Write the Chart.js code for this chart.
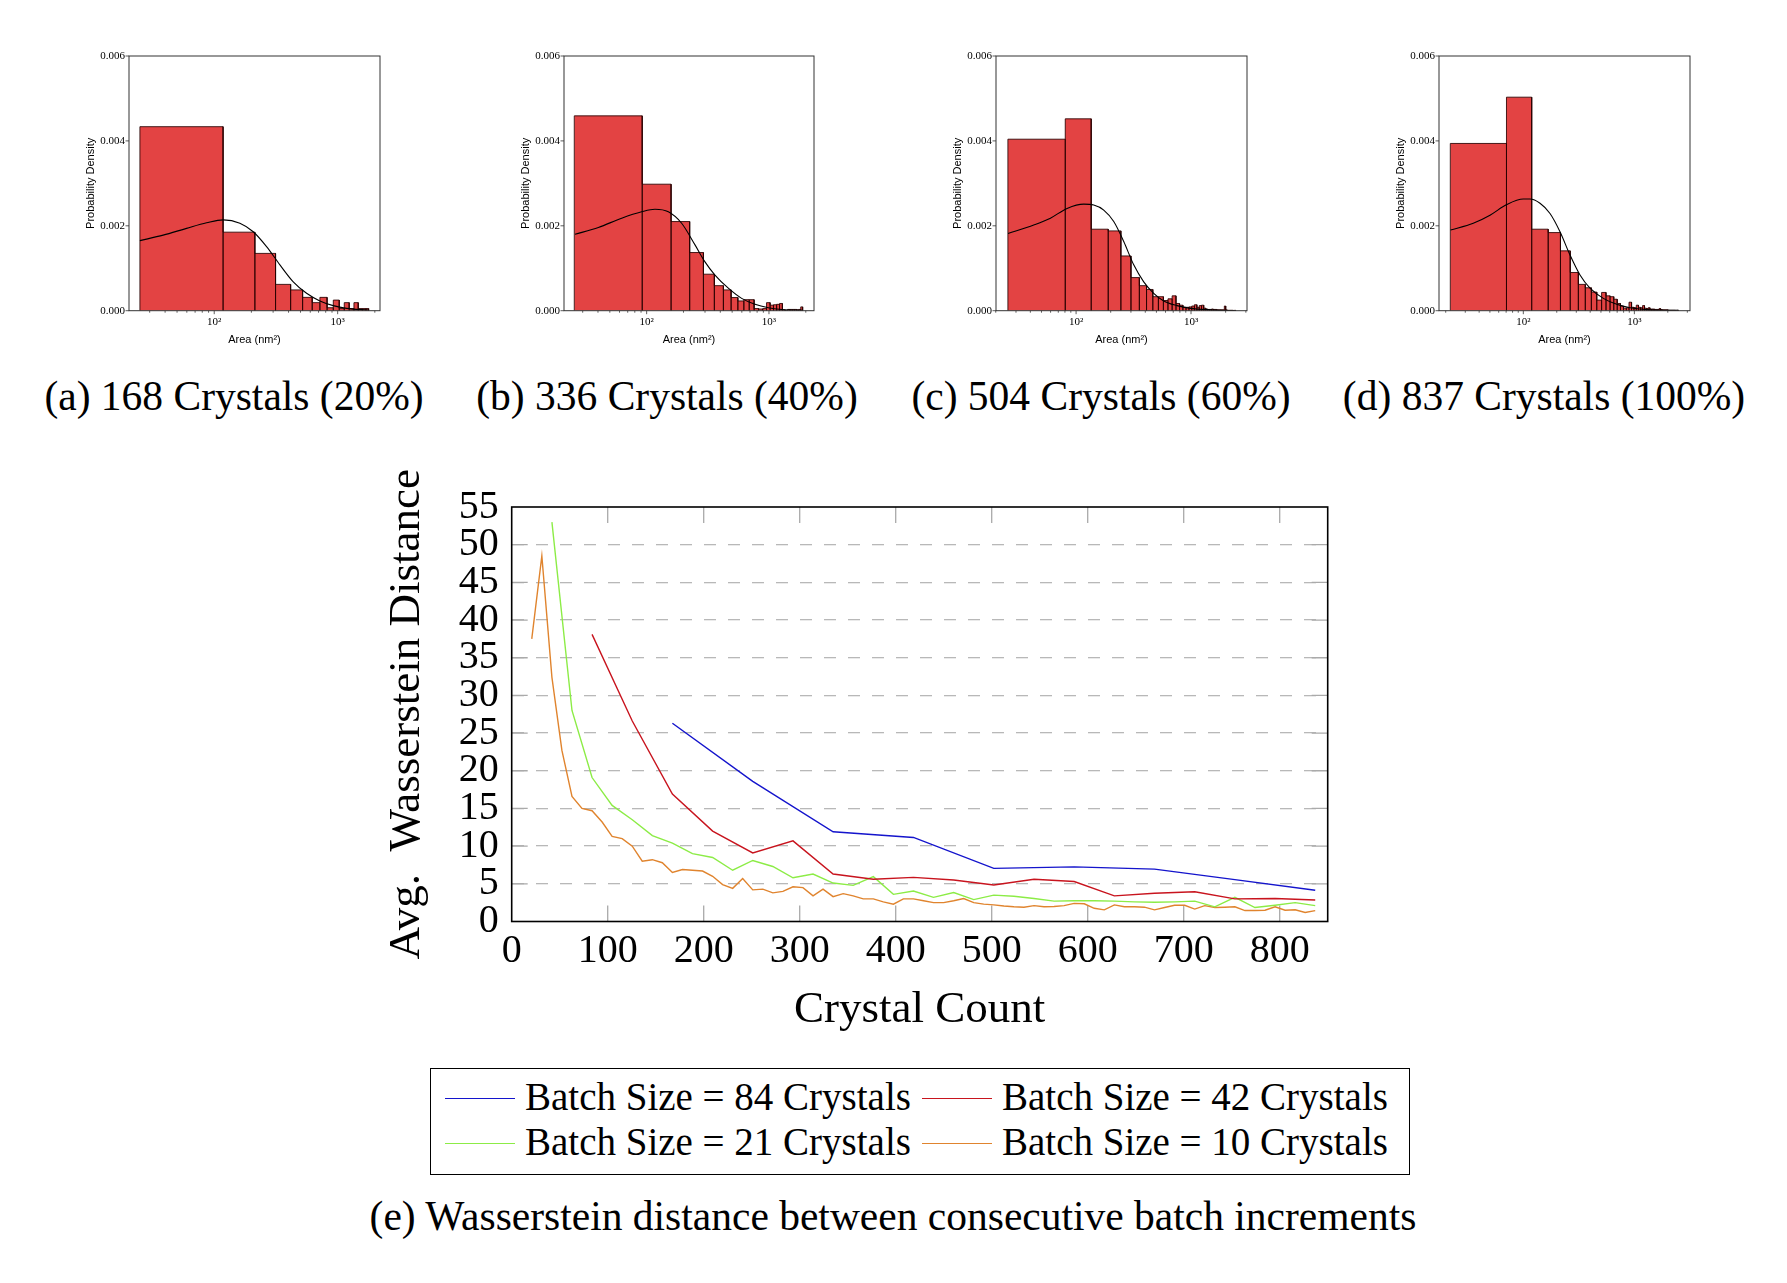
<!DOCTYPE html>
<html>
<head>
<meta charset="utf-8">
<script src="https://cdn.jsdelivr.net/npm/chart.js"></script>
<style>
  body { margin: 0; width: 1787px; height: 1283px; background: #fff; position: relative; overflow: hidden;
         font-family: "Liberation Serif", serif; color: #000; }
  canvas { position: absolute; }
  .cap { position: absolute; font-size: 41.5px; line-height: 48px; white-space: nowrap; transform: translateX(-50%); }
  #legend { position: absolute; left: 430px; top: 1068px; width: 978px; height: 105px; border: 1.5px solid #000; }
  .ltext { position: absolute; font-size: 39px; line-height: 46px; white-space: nowrap; }
  .lline { position: absolute; height: 0; border-top: 1.6px solid; }
</style>
</head>
<body>

<canvas id="histA" width="340" height="320" style="left:60px;top:40px"></canvas>
<canvas id="histB" width="340" height="320" style="left:495px;top:40px"></canvas>
<canvas id="histC" width="340" height="320" style="left:927px;top:40px"></canvas>
<canvas id="histD" width="340" height="320" style="left:1370px;top:40px"></canvas>

<div class="cap" style="left:234px;top:372px">(a) 168 Crystals (20%)</div>
<div class="cap" style="left:667px;top:372px">(b) 336 Crystals (40%)</div>
<div class="cap" style="left:1101px;top:372px">(c) 504 Crystals (60%)</div>
<div class="cap" style="left:1544px;top:372px">(d) 837 Crystals (100%)</div>

<canvas id="wdist" width="1020" height="570" style="left:330px;top:470px"></canvas>
<div id="legend"></div>
<div class="cap" style="left:893px;top:1192px">(e) Wasserstein distance between consecutive batch increments</div>

<script>
// ---------- histogram data (area in nm^2, probability density) ----------
const histA_edges   = [25, 118, 213.5, 314, 416, 520, 622, 718, 821, 922, 1030, 1131, 1240, 1355, 1468, 1584, 1696, 1782];
const histA_heights = [0.004335, 0.00185, 0.00135, 0.00062, 0.00049, 0.000314, 0.00019, 0.000314, 0.00007, 0.00025,
                       0.00005, 0.00019, 0.00005, 0.00019, 0.00005, 0.00005, 0.00005];
const histA_curveX  = [25, 38.6, 59.7, 86.7, 118.3, 161.4, 207, 265.5, 340.6, 436.8, 560, 718, 920, 1181, 1782];
const histA_curveY  = [0.00165, 0.00178, 0.00194, 0.00207, 0.00214, 0.00206, 0.00186, 0.00151, 0.00108, 0.00068,
                       0.00041, 0.00023, 0.00012, 0.000055, 0.000016];

const histB_edges   = [25.6, 92, 158.4, 224.8, 291.2, 357.6, 424, 490.4, 556.8, 623.2, 689.6, 756, 822.4, 888.8, 955.2,
                       1021.6, 1088, 1154.4, 1220.8, 1287.2, 1353.6, 1420, 1486.4, 1552.8, 1619.2, 1685.6, 1752, 1818.4, 1884.8];
const histB_heights = [0.00459, 0.00298, 0.0021, 0.00137, 0.00086, 0.00059, 0.00049, 0.00031, 0.00023, 0.00026,
                       0.00026, 0.00005, 0.00004, 0.00005, 0.00019, 0.00013, 0.00014, 0.00015, 0.00017, 0.00002,
                       0, 0.00003, 0.00003, 0.00003, 0.00003, 0.00002, 0.00003, 0.00009];
const histB_curveX  = [25.96, 40.3, 62.5, 91, 117, 150.4, 193.2, 248.5, 299.8, 361.9, 465.2, 597.9, 768.5, 987.6, 1269, 1884];
const histB_curveY  = [0.0018, 0.00196, 0.00218, 0.00233, 0.00239, 0.00233, 0.00206, 0.00155, 0.00115, 0.00084,
                       0.00053, 0.00029, 0.00015, 0.00007, 0.00003, 0.00001];

const histC_edges   = [25.5, 80.5, 135.4, 190.4, 245.3, 300.3, 355.2, 410.2, 465.1, 520.1, 575, 630, 684.9, 739.9, 794.8,
                       849.8, 904.7, 959.7, 1014.6, 1069.6, 1124.5, 1179.5, 1234.4, 1289.4, 1344.3, 1399.3, 1454.2, 1509.2,
                       1564.1, 1619.1, 1674, 1729, 1783.9, 1838.9, 1893.8, 1948.8, 2003.7, 2058.7, 2113.6, 2168.6, 2223.5,
                       2278.5, 2333.4, 2388.4, 2443.3];
const histC_heights = [0.00404, 0.00452, 0.00192, 0.00188, 0.00129, 0.00078, 0.00059, 0.0005, 0.00033, 0.00033,
                       0.00024, 0.00028, 0.00035, 0.00017, 0.00013, 0.00008, 0.00008, 0.00009, 0.00011, 0.00014,
                       0.00008, 0.00012, 0.00013, 0.00006, 0.00004, 0.00003, 0.00003, 0.00004, 0.00003, 0.00003,
                       0.00002, 0.00002, 0.00002, 0.00002, 0.00002, 0.00011, 0.00002, 0.00001, 0.00001, 0.00001,
                       0.00001, 0.00001, 0, 0.00001];
const histC_curveX  = [25.6, 42.8, 59.8, 83.5, 116.6, 142.4, 174, 212.6, 259.7, 317.3, 387.6, 473.6, 578.5, 755.6, 986.7, 1473, 2443];
const histC_curveY  = [0.00182, 0.00202, 0.00218, 0.00241, 0.00251, 0.00249, 0.00237, 0.0021, 0.00163, 0.00108,
                       0.00068, 0.00041, 0.00023, 0.00012, 0.000055, 0.00002, 0];

const histD_edges   = [22, 70.5, 119, 167.5, 216, 264.5, 313, 361.5, 410, 458.5, 507, 555.5, 604, 652.5, 701, 749.5,
                       798, 846.5, 895, 943.5, 992, 1040.5, 1089, 1137.5, 1186, 1234.5, 1283, 1331.5, 1380, 1428.5,
                       1477, 1525.5, 1574, 1622.5, 1671, 1719.5, 1768, 1816.5, 1865, 1913.5, 1962, 2010.5, 2059,
                       2107.5, 2156, 2204.5, 2253, 2301.5, 2350, 2398.5, 2447, 2495.5];
const histD_heights = [0.00394, 0.00503, 0.00192, 0.00184, 0.00141, 0.0009, 0.00062, 0.00054, 0.00044, 0.00025,
                       0.00043, 0.00035, 0.00033, 0.00027, 0.00017, 0.00011, 0.00006, 0.00007, 0.0002, 0.00008,
                       0.00007, 0.00013, 0.00008, 0.00007, 0.00012, 0.00006, 0.00005, 0.00007, 0.00004, 0.00004,
                       0.00004, 0.00003, 0.00003, 0.00003, 0.00005, 0.00003, 0.00002, 0.00002, 0.00002, 0.00002,
                       0.00002, 0.00001, 0.00001, 0.00001, 0.00001, 0.00001, 0.00001, 0.00001, 0, 0.00001, 0.00001];
const histD_curveX  = [22.1, 35.4, 50.1, 70.8, 100, 114.8, 141.3, 173.9, 214, 263.3, 324, 398.6, 525.7, 693, 914, 1384, 2495];
const histD_curveY  = [0.0019, 0.00206, 0.00225, 0.0025, 0.00263, 0.00263, 0.00253, 0.00229, 0.00186, 0.00131,
                       0.00084, 0.00053, 0.00029, 0.00015, 0.00007, 0.00002, 0.00001];

const areaMajorTicks = [100, 1000];
const areaMinorTicks = [20, 30, 40, 50, 60, 70, 80, 90, 200, 300, 400, 500, 600, 700, 800, 900, 2000, 3000];
const densityTicks   = [0, 0.002, 0.004, 0.006];

// ---------- Wasserstein distance data ----------
const countTicks = [0, 100, 200, 300, 400, 500, 600, 700, 800];
const distTicks  = [0, 5, 10, 15, 20, 25, 30, 35, 40, 45, 50, 55];

const batch84X = [167.4, 251.1, 334.8, 418.5, 502.2, 585.9, 669.6, 753.3, 837];
const batch84Y = [26.3, 18.6, 11.9, 11.15, 7.05, 7.25, 6.95, 5.55, 4.15];

const batch42X = [83.7, 125.6, 167.4, 209.3, 251.1, 293, 334.8, 376.7, 418.5, 460.4, 502.2, 544.1, 585.9, 627.8,
                  669.6, 711.5, 753.3, 795.2, 837];
const batch42Y = [38.1, 26.6, 16.9, 12.0, 9.1, 10.7, 6.3, 5.6, 5.85, 5.5, 4.85, 5.6, 5.3, 3.4, 3.75, 3.95, 3.0, 3.05, 2.85];

const batch21X = [41.9, 62.8, 83.7, 104.6, 125.6, 146.5, 167.4, 188.3, 209.3, 230.2, 251.1, 272, 293, 313.9, 334.8,
                  355.7, 376.7, 397.6, 418.5, 439.4, 460.4, 481.3, 502.2, 523.1, 544.1, 565, 585.9, 606.8, 627.8,
                  648.7, 669.6, 690.5, 711.5, 732.4, 753.3, 774.2, 795.2, 816.1, 837];
const batch21Y = [53.0, 28.0, 19.1, 15.4, 13.5, 11.4, 10.4, 9.0, 8.5, 6.8, 8.1, 7.3, 5.8, 6.3, 5.1, 4.8, 5.95, 3.6,
                  4.05, 3.2, 3.85, 2.9, 3.5, 3.35, 3.05, 2.7, 2.75, 2.75, 2.7, 2.6, 2.55, 2.6, 2.7, 1.95, 3.2, 1.85,
                  2.15, 2.5, 2.1];

const batch10X = [20.9, 31.4, 41.9, 52.3, 62.8, 73.2, 83.7, 94.2, 104.6, 115.1, 125.6, 136, 146.5, 156.9, 167.4,
                  177.9, 188.3, 198.8, 209.3, 219.7, 230.2, 240.6, 251.1, 261.6, 272, 282.5, 293, 303.4, 313.9, 324.3,
                  334.8, 345.3, 355.7, 366.2, 376.7, 387.1, 397.6, 408, 418.5, 429, 439.4, 449.9, 460.4, 470.8, 481.3,
                  491.7, 502.2, 512.7, 523.1, 533.6, 544.1, 554.5, 565, 575.4, 585.9, 596.4, 606.8, 617.3, 627.8,
                  638.2, 648.7, 659.1, 669.6, 680.1, 690.5, 701, 711.5, 721.9, 732.4, 742.8, 753.3, 763.8, 774.2,
                  784.7, 795.2, 805.6, 816.1, 826.5, 837];
const batch10Y = [37.5, 48.5, 32.4, 22.7, 16.6, 15.0, 14.7, 13.2, 11.3, 11.0, 10.0, 8.0, 8.2, 7.8, 6.5, 6.9, 6.8,
                  6.7, 6.0, 4.9, 4.4, 5.7, 4.2, 4.3, 3.8, 4.0, 4.6, 4.5, 3.4, 4.3, 3.3, 3.7, 3.4, 3.0, 3.0, 2.6, 2.3,
                  3.0, 3.0, 2.75, 2.5, 2.5, 2.75, 3.05, 2.5, 2.3, 2.2, 2.05, 1.95, 1.9, 2.1, 1.95, 2.0, 2.1, 2.4,
                  2.35, 1.75, 1.55, 2.2, 1.95, 1.95, 1.9, 1.55, 1.85, 2.15, 2.15, 1.65, 2.1, 1.85, 1.9, 1.95, 1.45,
                  1.45, 1.5, 1.95, 1.5, 1.55, 1.2, 1.45];

const series = [
  { label: 'Batch Size = 84 Crystals', color: '#1414cc', x: batch84X, y: batch84Y },
  { label: 'Batch Size = 42 Crystals', color: '#c8141e', x: batch42X, y: batch42Y },
  { label: 'Batch Size = 21 Crystals', color: '#8cec46', x: batch21X, y: batch21Y },
  { label: 'Batch Size = 10 Crystals', color: '#e0842e', x: batch10X, y: batch10Y },
];

Chart.defaults.font.family = '"Liberation Serif", serif';
Chart.defaults.color = '#000';

// frame + tick marks drawn from the scales
const frameTicks = {
  id: 'frameTicks',
  beforeDatasetsDraw(chart, args, o) {
    const { ctx, chartArea: a, scales: { x, y } } = chart;
    const d = o.inside ? 1 : -1;
    ctx.save();
    ctx.strokeStyle = o.tickColor;
    ctx.lineWidth = o.tickWidth;
    ctx.beginPath();
    const xTick = (v, len) => {
      const px = x.getPixelForValue(v);
      if (px < a.left - 0.5 || px > a.right + 0.5) return;
      ctx.moveTo(px, a.bottom); ctx.lineTo(px, a.bottom - d * len);
      if (o.both) { ctx.moveTo(px, a.top); ctx.lineTo(px, a.top + d * len); }
    };
    o.xMajor.forEach(v => xTick(v, o.len));
    (o.xMinor || []).forEach(v => xTick(v, o.minorLen));
    o.yMajor.forEach(v => {
      const py = y.getPixelForValue(v);
      ctx.moveTo(a.left, py); ctx.lineTo(a.left + d * o.len, py);
      if (o.both) { ctx.moveTo(a.right, py); ctx.lineTo(a.right - d * o.len, py); }
    });
    ctx.stroke();
    ctx.restore();
  },
  afterDatasetsDraw(chart, args, o) {
    const { ctx, chartArea: a } = chart;
    ctx.save();
    ctx.strokeStyle = o.frameColor;
    ctx.lineWidth = o.frameWidth;
    ctx.strokeRect(a.left, a.top, a.right - a.left, a.bottom - a.top);
    ctx.restore();
  }
};

function barOutline(edges, heights) {
  const pts = [];
  heights.forEach((h, i) => {
    pts.push({ x: edges[i], y: 0 }, { x: edges[i], y: h }, { x: edges[i + 1], y: h }, { x: edges[i + 1], y: 0 });
  });
  return pts;
}

function histogram(id, edges, heights, cx, cy, xmin, xmax, padRight) {
  new Chart(document.getElementById(id), {
    type: 'line',
    data: {
      datasets: [
        // the fitted curve sits on top of the bars
        { data: cx.map((v, i) => ({ x: v, y: cy[i] })), fill: false, borderColor: '#000', order: 0,
          borderWidth: 1.1, pointRadius: 0, cubicInterpolationMode: 'monotone' },
        { data: barOutline(edges, heights), fill: 'origin', backgroundColor: '#e34343', order: 1,
          borderColor: 'rgba(40,0,0,0.85)', borderWidth: 1, pointRadius: 0, tension: 0 }
      ]
    },
    options: {
      responsive: false, animation: false, devicePixelRatio: 1,
      layout: { padding: { top: 16, right: padRight, left: 0, bottom: 0 } },
      plugins: {
        legend: { display: false }, tooltip: { enabled: false },
        frameTicks: { inside: false, both: false, len: 3.5, minorLen: 2, tickColor: '#333', tickWidth: 0.8,
                      xMajor: areaMajorTicks, xMinor: areaMinorTicks, yMajor: densityTicks,
                      frameColor: '#333', frameWidth: 1 }
      },
      scales: {
        x: {
          type: 'logarithmic', min: xmin, max: xmax,
          afterBuildTicks: s => { s.ticks = areaMajorTicks.map(v => ({ value: v })); },
          afterFit: s => { s.height = 49.3; },
          grid: { display: false, drawTicks: false }, border: { display: false },
          ticks: { autoSkip: false, maxRotation: 0, padding: 5, font: { size: 11 },
                   callback: v => (v === 100 ? '10²' : v === 1000 ? '10³' : '') },
          title: { display: true, text: 'Area (nm²)', font: { family: '"Liberation Sans", sans-serif', size: 11 },
                   padding: { top: 0, bottom: 13 } }
        },
        y: {
          min: 0, max: 0.006,
          afterBuildTicks: s => { s.ticks = densityTicks.map(v => ({ value: v })); },
          afterFit: s => { s.width = 69; },
          grid: { display: false, drawTicks: false }, border: { display: false },
          ticks: { autoSkip: false, padding: 4, font: { size: 11 }, callback: v => v.toFixed(3) },
          title: { display: true, text: 'Probability Density', font: { family: '"Liberation Sans", sans-serif', size: 11 },
                   padding: { top: 24, bottom: 0 } }
        }
      }
    },
    plugins: [frameTicks]
  });
}

histogram('histA', histA_edges, histA_heights, histA_curveX, histA_curveY, 20.4, 2203, 20);
histogram('histB', histB_edges, histB_heights, histB_curveX, histB_curveY, 21.1, 2334, 21);
histogram('histC', histC_edges, histC_heights, histC_curveX, histC_curveY, 20.1, 3069, 20);
histogram('histD', histD_edges, histD_heights, histD_curveX, histD_curveY, 17.4, 3170, 20);

// ---------- Wasserstein distance chart ----------
new Chart(document.getElementById('wdist'), {
  type: 'line',
  data: {
    datasets: series.map(s => ({
      label: s.label, data: s.x.map((v, i) => ({ x: v, y: s.y[i] })),
      borderColor: s.color, borderWidth: 1.4, pointRadius: 0, tension: 0, fill: false
    }))
  },
  options: {
    responsive: false, animation: false, devicePixelRatio: 1,
    layout: { padding: { top: 36.5, right: 22.3, left: 0, bottom: 0 } },
    plugins: {
      legend: { display: false }, tooltip: { enabled: false },
      frameTicks: { inside: true, both: true, len: 16, tickColor: '#aaa', tickWidth: 1.3,
                    xMajor: countTicks.slice(1), yMajor: distTicks.slice(1, -1),
                    frameColor: '#000', frameWidth: 1.6 }
    },
    scales: {
      x: {
        type: 'linear', min: 0, max: 850,
        afterBuildTicks: s => { s.ticks = countTicks.map(v => ({ value: v })); },
        afterFit: s => { s.height = 118.5; },
        grid: { display: false, drawTicks: false }, border: { display: false },
        ticks: { autoSkip: false, maxRotation: 0, padding: 6, font: { size: 40 } },
        title: { display: true, text: 'Crystal Count', font: { size: 45 }, padding: { top: 0, bottom: 2.5 } }
      },
      y: {
        type: 'linear', min: 0, max: 55,
        afterBuildTicks: s => { s.ticks = distTicks.map(v => ({ value: v })); },
        afterFit: s => { s.width = 181.7; },
        grid: { drawTicks: false, lineWidth: 1.3,
                color: c => (c.tick.value === 0 || c.tick.value === 55 ? 'rgba(0,0,0,0)' : '#b8b8b8') },
        border: { display: false, dash: [12, 12] },
        ticks: { autoSkip: false, padding: 13, font: { size: 40 } },
        title: { display: true, text: 'Avg.  Wasserstein Distance', font: { size: 45 }, padding: { top: 50, bottom: 0 } }
      }
    }
  },
  plugins: [frameTicks]
});

// ---------- legend box ----------
const legend = document.getElementById('legend');
const legendCols = [14, 491];
const legendRows = [29, 74];
series.forEach((s, i) => {
  const lx = legendCols[i % 2], ly = legendRows[Math.floor(i / 2)];
  const line = document.createElement('div');
  line.className = 'lline';
  line.style.cssText = `left:${lx}px;top:${ly}px;width:70px;border-top-color:${s.color}`;
  legend.appendChild(line);
  const t = document.createElement('div');
  t.className = 'ltext';
  t.style.cssText = `left:${lx + 80}px;top:${ly - 24}px`;
  t.textContent = s.label;
  legend.appendChild(t);
});
</script>
</body>
</html>
